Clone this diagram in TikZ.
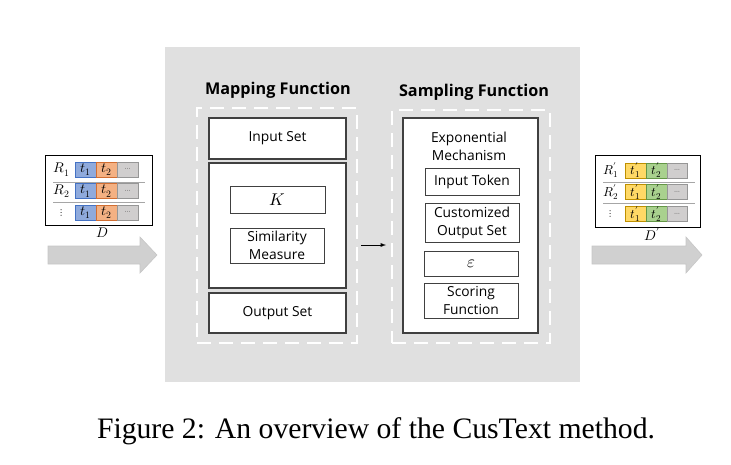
\documentclass[tikz,border=0pt]{standalone}
\usepackage{amsfonts,amssymb,amsmath}
\usepackage{fontspec}
\usepackage{unicode-math}
\setmainfont{Liberation Serif}
\setsansfont{Open Sans}
\setmathfont{Latin Modern Math}
\usepackage{tikz}

\definecolor{panelgray}{RGB}{224,224,224}
\definecolor{boxline}{RGB}{64,64,64}
\definecolor{bluefill}{RGB}{143,170,220}
\definecolor{blueline}{RGB}{68,114,196}
\definecolor{orangefill}{RGB}{244,177,131}
\definecolor{orangeline}{RGB}{209,110,50}
\definecolor{greyfill}{RGB}{208,206,206}
\definecolor{greyline}{RGB}{150,150,150}
\definecolor{yellowfill}{RGB}{255,217,102}
\definecolor{yellowline}{RGB}{191,144,0}
\definecolor{greenfill}{RGB}{169,209,142}
\definecolor{greenline}{RGB}{100,150,70}
\definecolor{arrowgray}{RGB}{208,208,208}

\tikzset{
  box/.style={draw=boxline, line width=1.2pt, fill=white, inner sep=0pt, align=center,
    font=\sffamily\fontsize{13.8}{18}\selectfont},
  smallbox/.style={box, line width=1pt},
  mathbox/.style={smallbox, font=\fontsize{17}{17}\selectfont},
  dashbox/.style={draw=white, line width=2.5pt, dash pattern=on 14pt off 8pt, inner sep=0pt},
  title/.style={font=\sffamily\bfseries\fontsize{16.2}{19}\selectfont},
  cell/.style={draw, line width=0.9pt, minimum width=21, minimum height=15, inner sep=0pt,
    font=\fontsize{14}{14}\selectfont},
  tcell/.style={cell, fill=bluefill, draw=blueline},
  ocell/.style={cell, fill=orangefill, draw=orangeline},
  gcell/.style={cell, fill=greyfill, draw=greyline},
  ycell/.style={cell, fill=yellowfill, draw=yellowline, font=\fontsize{13}{13}\selectfont},
  ecell/.style={cell, fill=greenfill, draw=greenline, font=\fontsize{13}{13}\selectfont},
  rowlab/.style={inner sep=0pt, font=\fontsize{14}{14}\selectfont},
  sepline/.style={draw=gray!70, line width=0.9pt},
  bigarrow/.style={fill=arrowgray, draw=gray!45, line width=0.6pt}
}

\begin{document}
\begin{tikzpicture}[x=1pt,y=-1pt]
\useasboundingbox (0,0) rectangle (731,464);

% panel
\fill[panelgray] (165,47) rectangle (580,382);

% mapping function
\node[title] (maptitle) at (278,90) {Mapping Function};
\node[dashbox, minimum width=160, minimum height=235] (mapdash) at (277,225.5) {};
\node[box, minimum width=137, minimum height=41] (inset) at (277.5,138.5) {Input Set};
\node[box, minimum width=137, minimum height=125] (midbox) at (277.5,225.5) {};
\node[mathbox, minimum width=95, minimum height=27] (kbox) at (277.5,199.5) {$K$};
\node[smallbox, minimum width=94, minimum height=35] (simbox) at (277,245.5) {Similarity\\Measure};
\node[box, minimum width=137, minimum height=40] (outset) at (277.5,313) {Output Set};

% sampling function
\node[title] (samptitle) at (474,92) {Sampling Function};
\node[dashbox, minimum width=158, minimum height=233] (sampdash) at (471,226.5) {};
\node[box, minimum width=135, minimum height=215] (sampbox) at (470.5,225.5) {};
\node[font=\sffamily\fontsize{13.8}{18}\selectfont, align=center] (expmech) at (469,146) {Exponential\\Mechanism};
\node[smallbox, minimum width=94, minimum height=27] (tokbox) at (472,181.5) {Input Token};
\node[smallbox, minimum width=94, minimum height=39] (custbox) at (472,222.5) {Customized\\Output Set};
\node[mathbox, minimum width=94, minimum height=25] (epsbox) at (471,263.5) {$\varepsilon$};
\node[smallbox, minimum width=94, minimum height=35] (scorebox) at (471,300.5) {Scoring\\Function};

\coordinate (arrS) at (361,245);
\coordinate (arrE) at (386,245);
\draw[-latex, line width=0.9pt] (arrS) -- (arrE);

% input table D
\node[draw, fill=white, line width=0.9pt, minimum width=107, minimum height=70] (tabD) at (98.5,190) {};
\draw[sepline] (53,182) -- (145,182);
\draw[sepline] (53,202) -- (145,202);

\node[rowlab] (r1) at (62,169.5) {$R_1$};
\node[tcell] (r1a) at (85.5,169.5) {$t_1$};
\node[ocell] (r1b) at (106.5,169.5) {$t_2$};
\node[gcell] (r1c) at (127.5,169.5) {\scriptsize$\cdots$};

\node[rowlab] (r2) at (62,191) {$R_2$};
\node[tcell] (r2a) at (85.5,191) {$t_1$};
\node[ocell] (r2b) at (106.5,191) {$t_2$};
\node[gcell] (r2c) at (127.5,191) {\scriptsize$\cdots$};

\node[rowlab, font=\fontsize{10}{10}\selectfont] (r3) at (62,212.5) {$\vdots$};
\node[tcell] (r3a) at (85.5,212.5) {$t_1$};
\node[ocell] (r3b) at (106.5,212.5) {$t_2$};
\node[gcell] (r3c) at (127.5,212.5) {\scriptsize$\cdots$};

\node[rowlab] (dlab) at (102,233) {$D$};
\draw[bigarrow] (48,246) -- (140,246) -- (140,237) -- (157,255) -- (140,273) -- (140,264) -- (48,264) -- cycle;

% output table D'
\node[draw, fill=white, line width=0.9pt, minimum width=105, minimum height=72] (tabDp) at (647.5,191) {};
\draw[sepline] (603,182) -- (695,182);
\draw[sepline] (603,203) -- (695,203);

\node[rowlab, font=\fontsize{13}{13}\selectfont] (q1) at (611,170.5) {$R'_1$};
\node[ycell] (q1a) at (635.5,170.5) {$t'_1$};
\node[ecell] (q1b) at (656.5,170.5) {$t'_2$};
\node[gcell, minimum width=20] (q1c) at (677,170.5) {\scriptsize$\cdots$};

\node[rowlab, font=\fontsize{13}{13}\selectfont] (q2) at (611,192) {$R'_2$};
\node[ycell] (q2a) at (635.5,192) {$t'_1$};
\node[ecell] (q2b) at (656.5,192) {$t'_2$};
\node[gcell, minimum width=20] (q2c) at (677,192) {\scriptsize$\cdots$};

\node[rowlab, font=\fontsize{10}{10}\selectfont] (q3) at (611,214) {$\vdots$};
\node[ycell] (q3a) at (635.5,214) {$t'_1$};
\node[ecell] (q3b) at (656.5,214) {$t'_2$};
\node[gcell, minimum width=20] (q3c) at (677,214) {\scriptsize$\cdots$};

\node[rowlab] (dplab) at (652,234) {$D'$};
\draw[bigarrow] (592,246) -- (686,246) -- (686,237) -- (702,255) -- (686,273) -- (686,264) -- (592,264) -- cycle;

% caption
\node[anchor=base, font=\fontsize{29.7}{34}\selectfont] (caption) at (376,438) {Figure 2: An overview of the CusText method.};
\end{tikzpicture}
\end{document}
